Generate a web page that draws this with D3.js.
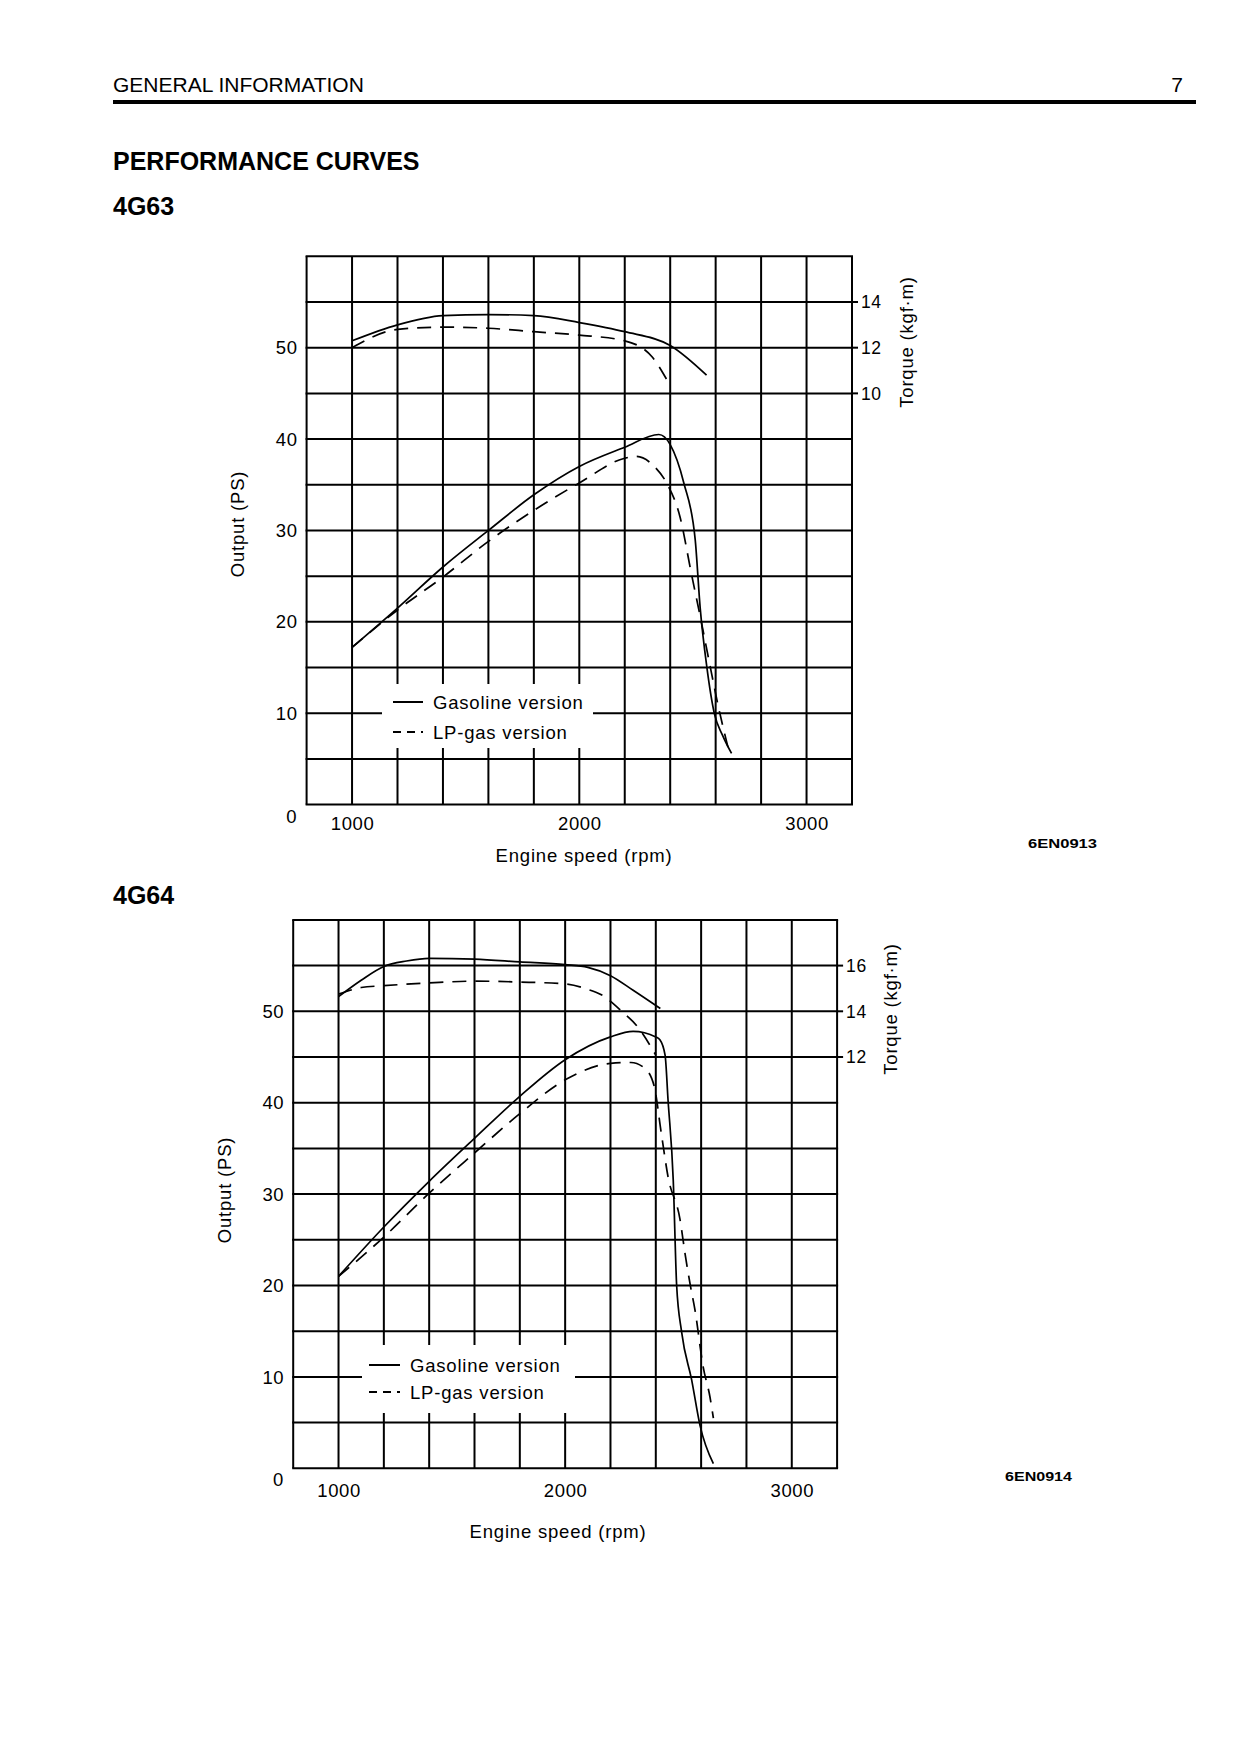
<!DOCTYPE html>
<html>
<head>
<meta charset="utf-8">
<script src="https://cdn.jsdelivr.net/npm/d3@7"></script>
<style>
  html, body { margin: 0; padding: 0; background: #fff; }
  svg { display: block; font-family: "Liberation Sans", Arial, Helvetica, sans-serif; }
</style>
</head>
<body>
<div id="page"></div>
<script>
// ---- 4G63 (torque in kgf·m, output in PS) ----
const rpmGasOut63 = [1000, 1200, 1400, 1600, 1800, 2000, 2200, 2350, 2400, 2460, 2510, 2532, 2561, 2594, 2630, 2670];
const gasOut63    = [17.2, 21.5, 26.0, 30.0, 33.9, 37.0, 39.1, 40.5, 39.4, 35.2, 29.0, 21.5, 15.1, 10.0, 7.6, 5.6];
const rpmLpgOut63 = [1000, 1200, 1400, 1600, 1800, 2000, 2200, 2250, 2330, 2384, 2443, 2493, 2532, 2576, 2606, 2657];
const lpgOut63    = [17.2, 21.3, 24.9, 28.8, 32.2, 35.2, 37.9, 38.1, 37.0, 35.2, 31.5, 25.3, 20.6, 15.1, 11.4, 6.0];
const rpmGasTq63  = [1000, 1200, 1400, 1600, 1800, 2000, 2200, 2400, 2560];
const gasTq63     = [12.3, 13.0, 13.4, 13.45, 13.4, 13.1, 12.7, 12.1, 10.8];
const rpmLpgTq63  = [1000, 1200, 1400, 1600, 1800, 2000, 2200, 2320, 2385];
const lpgTq63     = [12.0, 12.8, 12.9, 12.85, 12.7, 12.55, 12.3, 11.6, 10.6];

// ---- 4G64 ----
const rpmGasOut64 = [1000, 1200, 1400, 1600, 1800, 2000, 2200, 2300, 2400, 2418, 2441, 2454, 2477, 2492, 2514, 2558, 2595, 2654];
const gasOut64    = [21.0, 26.4, 31.4, 36.1, 40.7, 44.7, 47.2, 47.8, 47.2, 46.9, 45.2, 40.3, 31.5, 20.0, 14.9, 9.7, 4.7, 0.5];
const rpmLpgOut64 = [1000, 1200, 1400, 1600, 1800, 2000, 2200, 2290, 2350, 2393, 2424, 2454, 2507, 2529, 2551, 2573, 2609, 2639, 2654];
const lpgOut64    = [21.0, 25.3, 30.1, 34.5, 38.8, 42.5, 44.3, 44.4, 43.8, 41.8, 36.7, 31.9, 27.2, 23.5, 20.2, 17.3, 11.1, 7.8, 5.5];
const rpmGasTq64  = [1000, 1100, 1200, 1300, 1400, 1600, 1800, 2000, 2100, 2200, 2300, 2420];
const gasTq64     = [14.64, 15.36, 15.96, 16.2, 16.32, 16.28, 16.16, 16.04, 15.92, 15.56, 14.92, 14.12];
const rpmLpgTq64  = [1000, 1100, 1200, 1400, 1600, 1800, 2000, 2100, 2160, 2250, 2320, 2400];
const lpgTq64     = [14.75, 15.04, 15.12, 15.24, 15.32, 15.28, 15.2, 14.96, 14.72, 14.0, 13.32, 12.08];

// axis ticks
const rpmDomain = [800, 3200];
const rpmLabels = [1000, 2000, 3000];
const psDomain = [0, 60];
const psLabels = [10, 20, 30, 40, 50];
const tqLabels63 = [10, 12, 14];
const tqLabels64 = [12, 14, 16];
const legendNames = ["Gasoline version", "LP-gas version"];

const W = 1240, H = 1755;
const FONT = 18.5;

const svg = d3.select("#page").append("svg")
  .attr("width", W).attr("height", H)
  .attr("viewBox", [0, 0, W, H]);

// page header
svg.append("text").attr("x", 113).attr("y", 92).attr("font-size", 21).text("GENERAL INFORMATION");
svg.append("text").attr("x", 1183).attr("y", 92).attr("font-size", 21).attr("text-anchor", "end").text("7");
svg.append("rect").attr("x", 113).attr("y", 100).attr("width", 1083).attr("height", 4).attr("fill", "#000");
svg.append("text").attr("x", 113).attr("y", 170).attr("font-size", 25).attr("font-weight", "bold").text("PERFORMANCE CURVES");
svg.append("text").attr("x", 113).attr("y", 215).attr("font-size", 25).attr("font-weight", "bold").text("4G63");
svg.append("text").attr("x", 113).attr("y", 904).attr("font-size", 25).attr("font-weight", "bold").text("4G64");

const zip = (a, b) => a.map((v, i) => [v, b[i]]);

function drawChart(cfg) {
  const g = svg.append("g");
  const x = d3.scaleLinear().domain(rpmDomain).range([cfg.left, cfg.right]);
  const y = d3.scaleLinear().domain(psDomain).range([cfg.bottom, cfg.top]);
  const yT = d3.scaleLinear().domain(cfg.tqDomain).range([cfg.bottom, cfg.top]);

  // grid (200 rpm x 5 PS cells)
  g.append("g").selectAll("line")
    .data(d3.range(rpmDomain[0], rpmDomain[1] + 1, 200))
    .join("line")
    .attr("x1", d => x(d)).attr("x2", d => x(d))
    .attr("y1", cfg.top).attr("y2", cfg.bottom)
    .attr("stroke", "#000").attr("stroke-width", 2);
  g.append("g").selectAll("line")
    .data(d3.range(psDomain[0], psDomain[1] + 1, 5))
    .join("line")
    .attr("x1", cfg.left - 1).attr("x2", cfg.right + 1)
    .attr("y1", d => y(d)).attr("y2", d => y(d))
    .attr("stroke", "#000").attr("stroke-width", 2);

  // left axis labels
  g.append("g").selectAll("text")
    .data(psLabels)
    .join("text")
    .attr("x", cfg.left - 9).attr("y", d => y(d)).attr("dy", "0.36em")
    .attr("text-anchor", "end").attr("font-size", FONT).attr("letter-spacing", 0.6)
    .text(d => d);
  g.append("text")
    .attr("x", cfg.left - 10).attr("y", cfg.bottom + 18)
    .attr("text-anchor", "end").attr("font-size", FONT)
    .text("0");

  // bottom axis labels
  const xAxis = d3.axisBottom(x).tickValues(rpmLabels).tickFormat(d3.format("d")).tickSize(0).tickPadding(0);
  const ax = g.append("g").attr("transform", `translate(0,${cfg.bottom})`).call(xAxis);
  ax.select(".domain").remove();
  ax.selectAll("text")
    .attr("y", cfg.xLabelDy).attr("dy", null)
    .attr("font-size", FONT).attr("letter-spacing", 0.6)
    .attr("font-family", "\"Liberation Sans\", Arial, sans-serif")
    .attr("fill", "#000");

  // right torque axis
  g.append("g").selectAll("line")
    .data(cfg.tqLabels)
    .join("line")
    .attr("x1", cfg.right).attr("x2", cfg.right + 6)
    .attr("y1", d => yT(d)).attr("y2", d => yT(d))
    .attr("stroke", "#000").attr("stroke-width", 2);
  g.append("g").selectAll("text")
    .data(cfg.tqLabels)
    .join("text")
    .attr("x", cfg.right + 9).attr("y", d => yT(d)).attr("dy", "0.36em")
    .attr("font-size", FONT - 1).attr("letter-spacing", 0.6)
    .text(d => d);

  // axis titles
  g.append("text")
    .attr("transform", `translate(${cfg.outLabel[0]},${cfg.outLabel[1]}) rotate(-90)`)
    .attr("text-anchor", "middle").attr("dy", "0.35em")
    .attr("font-size", FONT).attr("letter-spacing", 0.8)
    .text("Output (PS)");
  g.append("text")
    .attr("transform", `translate(${cfg.tqLabel[0]},${cfg.tqLabel[1]}) rotate(-90)`)
    .attr("text-anchor", "middle").attr("dy", "0.35em")
    .attr("font-size", FONT).attr("letter-spacing", 0.8)
    .text("Torque (kgf·m)");
  g.append("text")
    .attr("x", cfg.xTitle[0]).attr("y", cfg.xTitle[1])
    .attr("text-anchor", "middle")
    .attr("font-size", FONT).attr("letter-spacing", 0.8)
    .text("Engine speed (rpm)");
  g.append("text")
    .attr("x", cfg.code[0]).attr("y", cfg.code[1])
    .attr("font-size", 13).attr("font-weight", "bold")
    .attr("textLength", cfg.code[2]).attr("lengthAdjust", "spacingAndGlyphs")
    .text(cfg.codeText);

  // legend
  const lg = cfg.legend;
  g.append("rect")
    .attr("x", lg.x).attr("y", lg.y).attr("width", lg.w).attr("height", lg.h)
    .attr("fill", "#fff");
  const items = g.append("g").selectAll("g")
    .data(legendNames)
    .join("g")
    .attr("transform", (d, i) => `translate(${lg.sx},${lg.row0 + i * lg.rowGap})`);
  items.append("line")
    .attr("x1", 0).attr("x2", lg.sw).attr("y1", 0).attr("y2", 0)
    .attr("stroke", "#000").attr("stroke-width", 2)
    .attr("stroke-dasharray", (d, i) => i === 0 ? null : "8,6");
  items.append("text")
    .attr("x", lg.tx - lg.sx).attr("y", 0).attr("dy", "0.36em")
    .attr("font-size", FONT).attr("letter-spacing", 0.8)
    .text(d => d);

  // curves
  const lineOut = d3.line().x(d => x(d[0])).y(d => y(d[1])).curve(d3.curveMonotoneX);
  const lineTq = d3.line().x(d => x(d[0])).y(d => yT(d[1])).curve(d3.curveMonotoneX);
  const curves = g.append("g").attr("fill", "none").attr("stroke", "#000").attr("stroke-width", 1.7);
  curves.append("path").attr("d", lineOut(cfg.gasOut));
  curves.append("path").attr("d", lineOut(cfg.lpgOut)).attr("stroke-dasharray", "14,9");
  curves.append("path").attr("d", lineTq(cfg.gasTq));
  curves.append("path").attr("d", lineTq(cfg.lpgTq)).attr("stroke-dasharray", "14,9");
}

drawChart({
  left: 306.6, right: 852, top: 256.3, bottom: 804.6,
  tqDomain: [-8, 16], tqLabels: tqLabels63,
  xLabelDy: 25,
  outLabel: [238, 524], tqLabel: [907, 342], xTitle: [584, 862],
  code: [1028, 848, 69], codeText: "6EN0913",
  legend: { x: 382, y: 684, w: 211, h: 64, sx: 393, sw: 30, tx: 433, row0: 702, rowGap: 30 },
  gasOut: zip(rpmGasOut63, gasOut63), lpgOut: zip(rpmLpgOut63, lpgOut63),
  gasTq: zip(rpmGasTq63, gasTq63), lpgTq: zip(rpmLpgTq63, lpgTq63)
});

drawChart({
  left: 293.2, right: 837.1, top: 919.9, bottom: 1468.3,
  tqDomain: [-6, 18], tqLabels: tqLabels64,
  xLabelDy: 29,
  outLabel: [225, 1190], tqLabel: [891, 1009], xTitle: [558, 1538],
  code: [1005, 1481, 67], codeText: "6EN0914",
  legend: { x: 362, y: 1345, w: 213, h: 68, sx: 369, sw: 31, tx: 410, row0: 1365, rowGap: 27 },
  gasOut: zip(rpmGasOut64, gasOut64), lpgOut: zip(rpmLpgOut64, lpgOut64),
  gasTq: zip(rpmGasTq64, gasTq64), lpgTq: zip(rpmLpgTq64, lpgTq64)
});
</script>
</body>
</html>
